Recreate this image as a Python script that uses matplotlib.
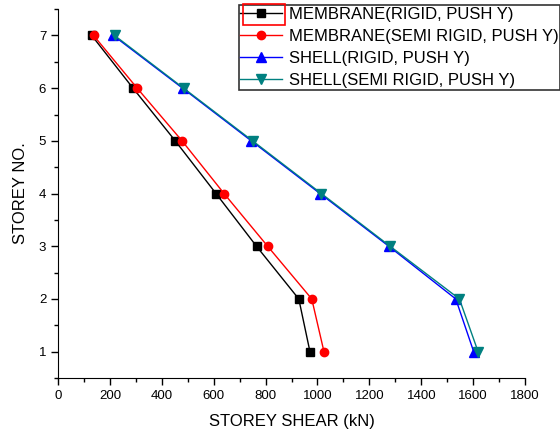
import numpy as np
import matplotlib
matplotlib.use("Agg")
import matplotlib.pyplot as plt
from matplotlib.ticker import MultipleLocator
from matplotlib.patches import Rectangle

plt.rcParams['font.family'] = ['Liberation Sans', 'DejaVu Sans']

storey = [7, 6, 5, 4, 3, 2, 1]
membrane_rigid = [130, 289, 452, 609, 765, 928, 971]
membrane_semi = [137, 305, 478, 640, 808, 978, 1025]
shell_rigid = [213, 480, 745, 1010, 1275, 1533, 1602]
shell_semi = [218, 484, 750, 1015, 1280, 1547, 1619]

labels = ["MEMBRANE(RIGID, PUSH Y)",
          "MEMBRANE(SEMI RIGID, PUSH Y)",
          "SHELL(RIGID, PUSH Y)",
          "SHELL(SEMI RIGID, PUSH Y)"]

fig = plt.figure(figsize=(5.6, 4.34), dpi=100)
ax = fig.add_axes([0.1036, 0.129, 0.834, 0.85])

ax.plot(membrane_rigid, storey, color='black', marker='s', ms=6, lw=1, label=labels[0])
ax.plot(membrane_semi, storey, color='red', marker='o', ms=6, lw=1, label=labels[1])
ax.plot(shell_rigid, storey, color='blue', marker='^', ms=7, lw=1, label=labels[2])
ax.plot(shell_semi, storey, color='#008080', marker='v', ms=7, lw=1, label=labels[3])

ax.set_xlim(0, 1800)
ax.set_ylim(0.5, 7.5)
ax.xaxis.set_major_locator(MultipleLocator(200))
ax.xaxis.set_minor_locator(MultipleLocator(100))
ax.yaxis.set_major_locator(MultipleLocator(1))
ax.yaxis.set_minor_locator(MultipleLocator(0.5))
ax.tick_params(which='both', direction='out', width=1, labelsize=9.5)
ax.tick_params(which='major', length=5)
ax.tick_params(which='minor', length=3)
ax.spines['top'].set_visible(False)
ax.spines['right'].set_visible(False)

ax.set_xlabel("STOREY SHEAR (kN)", fontsize=12, labelpad=9)
ax.set_ylabel("STOREY NO.", fontsize=12, labelpad=8)

leg = fig.legend(loc='upper right', bbox_to_anchor=(1.0, 0.988), fontsize=12,
                 frameon=True, fancybox=False, edgecolor='black',
                 borderpad=0.1, labelspacing=0.42, handlelength=2.5,
                 handletextpad=0.4, borderaxespad=0)
leg.get_frame().set_linewidth(1.2)

# highlight box around the first legend entry's handle
fig.canvas.draw()
renderer = fig.canvas.get_renderer()
tbox = leg.get_texts()[0].get_window_extent(renderer)
fbox = leg.get_frame().get_window_extent(renderer)
inv = fig.transFigure.inverted()
x0, y0 = inv.transform((fbox.x0 + 4, tbox.y0 - 3))
x1, y1 = inv.transform((tbox.x0 - 4, tbox.y1 + 3))
fig.add_artist(Rectangle((x0, y0), x1 - x0, y1 - y0, transform=fig.transFigure,
                         fill=False, ec='red', lw=1.2, zorder=20))

fig.savefig("out.png", dpi=100)
